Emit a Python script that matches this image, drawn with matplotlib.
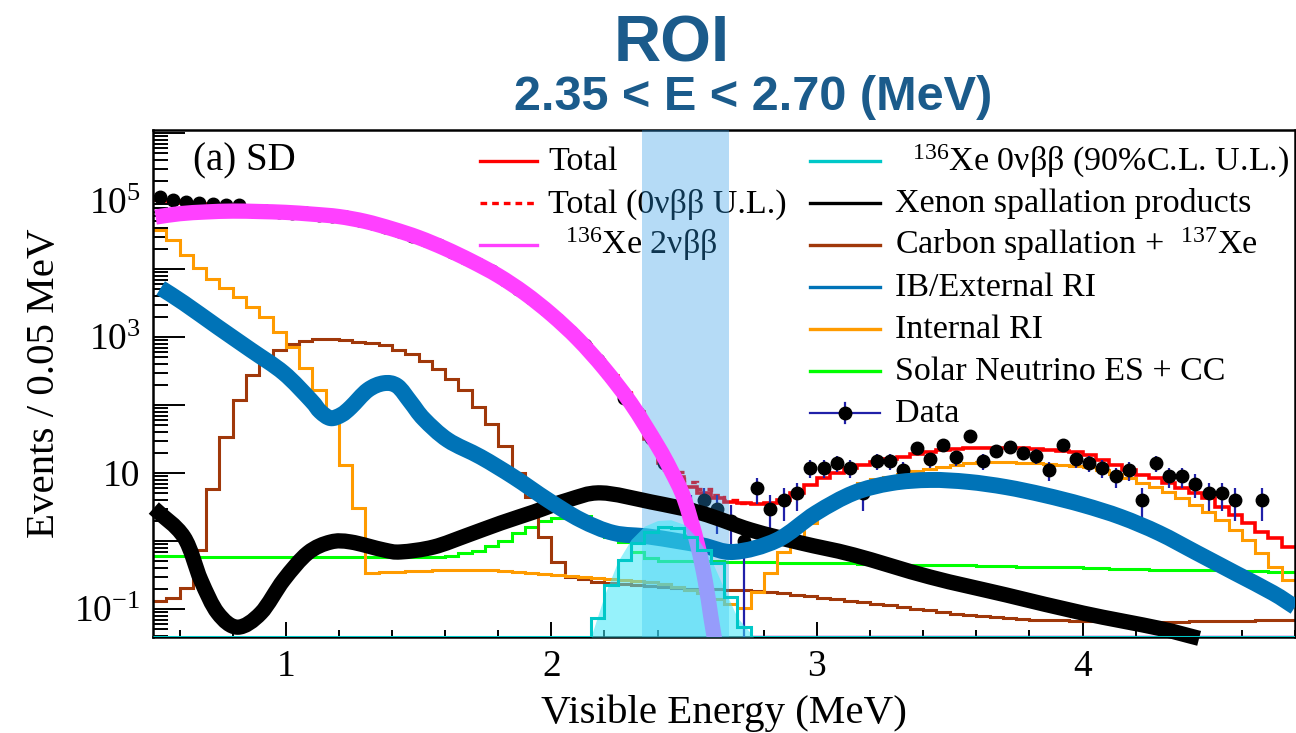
import numpy as np
import matplotlib
matplotlib.use("Agg")
import matplotlib.pyplot as plt
from matplotlib.path import Path
from matplotlib.patches import PathPatch
from matplotlib.ticker import FixedLocator, LogLocator, FuncFormatter, MultipleLocator, NullFormatter

plt.rcParams['font.family'] = ['Liberation Serif', 'DejaVu Serif']
plt.rcParams['mathtext.fontset'] = 'custom'
plt.rcParams['mathtext.rm'] = 'Liberation Serif'
plt.rcParams['mathtext.it'] = 'Liberation Serif:italic'
plt.rcParams['mathtext.bf'] = 'Liberation Serif:bold'

# binning: 0.05 MeV from 0.5 to 4.8 MeV (86 bins)
bin_lo, bin_hi, bin_w = 0.5, 4.8, 0.05
y_lo, y_hi = 10 ** -1.412, 10 ** 6.044

data_counts = [114500, 103000, 97000, 93000, 90000, 88000, 86000, 72000, 71000, 69000,
               67500, 65500, 63000, 60500, 57500, 52500, 47500, 42000, 36500, 31000,
               26500, 22500, 18000, 14500, 11800, 9200, 6900, 5100, 3700, 2600,
               1800, 1200, 760, 460, 260, 127, 75, 33, 14, 7,
               3, 4, 3, 2, 1, 6, 3, 4, 5, 12,
               12, 14, 12, 5, 15, 15, 11, 23, 16, 26,
               17, 35, 15, 21, 24, 20, 18, 11, 26, 16,
               14, 12, 9, 11, 4, 14, 9, 9, 7, 5,
               5, 4, 0, 4, 0, 0]

total_fit = [105000, 99000, 94000, 90000, 85000, 80000, 76000, 73000, 71500, 69500,
             67500, 65500, 63000, 60500, 57500, 53000, 48000, 42500, 37000, 31500,
             26500, 22500, 18200, 14600, 11800, 9300, 6900, 5100, 3700, 2650,
             1800, 1200, 760, 460, 270, 150, 80, 32, 14, 8.7,
             6.2, 5.1, 4.3, 3.8, 3.6, 3.5, 3.6, 4.0, 5.1, 6.7,
             8.4, 10, 11.9, 13.1, 14.5, 16.1, 17.2, 19.0, 20.4, 21.9,
             22.6, 23.4, 23.4, 23.4, 23.4, 23.4, 22.6, 21.9, 21.1, 20.4,
             18.4, 15.5, 13.1, 11.1, 9.3, 8.4, 7.1, 6.0, 5.1, 4.3,
             3.16, 2.41, 1.84, 1.36, 1.1, 0.82]

# total with the 0vbb upper limit added, bins 2.15-2.75 MeV
total_ul_lo = 2.15
total_ul = [460, 270.2, 150.5, 81, 33.4, 15.6, 10.3, 7.4, 5.8, 4.8, 3.95, 3.65]

internal_ri = [37500, 26700, 16000, 10300, 7130, 5250, 3870, 2760, 1970, 1190,
               713, 350, 166, 79, 13.1, 3.05, 0.34, 0.35, 0.355, 0.36,
               0.365, 0.37, 0.375, 0.375, 0.375, 0.37, 0.36, 0.35, 0.34, 0.33,
               0.32, 0.31, 0.30, 0.29, 0.28, 0.27, 0.26, 0.25, 0.23, 0.21,
               0.19, 0.17, 0.14, 0.12, 0.104, 0.178, 0.34, 0.69, 1.15, 1.84,
               3.05, 4.4, 5.6, 7.1, 8.2, 8.7, 9.7, 10.7, 11.5, 12.3,
               13.1, 14.0, 14.5, 14.5, 14.5, 14.0, 14.0, 13.6, 13.1, 12.7,
               12.3, 11.1, 9.7, 8.4, 7.1, 6.2, 5.25, 4.3, 3.4, 2.67,
               2.04, 1.45, 1.03, 0.67, 0.415, 0.267]

carbon_spall = [0.131, 0.145, 0.204, 0.738, 5.8, 34, 118, 274, 444, 646,
                789, 872, 934, 934, 903, 844, 815, 760, 646, 563,
                444, 340, 240, 166, 93, 52, 25, 10, 4.4, 1.15,
                0.49, 0.295, 0.275, 0.25, 0.24, 0.23, 0.225, 0.22, 0.21, 0.205,
                0.2, 0.197, 0.194, 0.19, 0.187, 0.182, 0.177, 0.17, 0.162, 0.154,
                0.147, 0.14, 0.132, 0.125, 0.119, 0.113, 0.107, 0.101, 0.095, 0.09,
                0.085, 0.081, 0.078, 0.075, 0.073, 0.071, 0.07, 0.069, 0.068, 0.067,
                0.066, 0.066, 0.065, 0.065, 0.065, 0.065, 0.065, 0.065, 0.066, 0.066,
                0.066, 0.067, 0.067, 0.068, 0.068, 0.069]

solar_nu = [0.60, 0.60, 0.60, 0.59, 0.59, 0.59, 0.59, 0.59, 0.58, 0.58,
            0.58, 0.58, 0.58, 0.58, 0.58, 0.58, 0.58, 0.58, 0.58, 0.58,
            0.58, 0.59, 0.61, 0.66, 0.72, 0.85, 1.0, 1.3, 1.6, 2.0,
            2.2, 2.4, 2.3, 1.7, 1.15, 0.95, 0.7, 0.56, 0.51, 0.5,
            0.5, 0.5, 0.5, 0.49, 0.49, 0.49, 0.49, 0.48, 0.48, 0.48,
            0.47, 0.47, 0.47, 0.46, 0.46, 0.46, 0.45, 0.45, 0.45, 0.44,
            0.44, 0.44, 0.43, 0.43, 0.43, 0.42, 0.42, 0.41, 0.41, 0.41,
            0.40, 0.40, 0.39, 0.39, 0.39, 0.38, 0.38, 0.38, 0.37, 0.37,
            0.37, 0.36, 0.36, 0.36, 0.35, 0.35]

# 136Xe 0vbb 90% C.L. upper limit, non-empty bins 2.15-2.75 MeV
xe0nu = [0] * 33 + [0.074, 0.225, 0.525, 0.93, 1.36, 1.61, 1.55, 1.15, 0.74, 0.48, 0.15, 0.055] + [0] * 41
# smoothed 0vbb band
xe0nu_band_x = [2.15, 2.2, 2.25, 2.3, 2.35, 2.4, 2.45, 2.5, 2.55, 2.6, 2.65, 2.7, 2.76]
xe0nu_band_y = [0.04, 0.16, 0.5, 1.05, 1.65, 2.0, 2.05, 1.75, 1.1, 0.55, 0.2, 0.075, 0.04]
# 2vbb histogram is empty above this energy
xe2nu_end = 2.75

# smooth model curves
xe2nu_x = [0.51, 0.6, 0.7, 0.8, 0.9, 1.0, 1.1, 1.2, 1.3, 1.4, 1.5, 1.6, 1.7, 1.8,
           1.9, 2.0, 2.1, 2.2, 2.3, 2.4, 2.45, 2.5, 2.55, 2.58, 2.6, 2.615]
xe2nu_y = [58000, 65000, 69000, 71000, 70000, 68000, 64000, 59000, 50000, 39000, 29000, 20000, 13000, 8000,
           4400, 2150, 930, 340, 105, 25, 11, 4.2, 0.89, 0.25, 0.079, 0.035]

ib_ext_x = [0.529, 0.616, 0.744, 0.868, 0.992, 1.094, 1.13, 1.169, 1.21, 1.245, 1.309, 1.369, 1.42,
            1.47, 1.52, 1.61, 1.734, 1.859, 1.987, 2.111, 2.235, 2.375, 2.563, 2.687, 2.85, 2.996,
            3.139, 3.28, 3.426, 3.569, 3.712, 3.855, 4.002, 4.145, 4.288, 4.431, 4.574, 4.717, 4.80]
ib_ext_y = [5250, 3160, 1400, 646, 296, 118, 80, 64, 72, 93, 166, 209, 190,
            110, 62, 30.5, 17.2, 8.7, 4.0, 2.04, 1.31, 1.15, 0.87, 0.69, 1.03, 2.57,
            5.1, 7.1, 7.9, 7.4, 6.2, 4.75, 3.39, 2.25, 1.31, 0.667, 0.339, 0.172, 0.107]

xe_spall_x = [0.503, 0.616, 0.68, 0.744, 0.819, 0.906, 0.992, 1.083, 1.169, 1.245, 1.369, 1.433,
              1.557, 1.685, 1.81, 1.934, 2.062, 2.186, 2.375, 2.563, 2.751, 2.94, 3.139,
              3.426, 3.712, 4.002, 4.288, 4.439]
xe_spall_y = [3.05, 1.15, 0.267, 0.087, 0.054, 0.087, 0.267, 0.667, 0.966, 0.966, 0.738, 0.69,
              0.816, 1.22, 1.84, 2.67, 4.0, 5.1, 3.75, 2.58, 1.45, 0.935, 0.622,
              0.295, 0.161, 0.087, 0.052, 0.037]

roi_lo, roi_hi = 2.34, 2.67

edges = np.round(np.arange(bin_lo, bin_hi + bin_w / 2, bin_w), 3)
centers = edges[:-1] + bin_w / 2

fig = plt.figure(figsize=(12.96, 7.33), dpi=100)
ax = fig.add_axes([0.11806, 0.13097, 0.88117, 0.69168])
ax.set_yscale('log')
ax.set_xlim(bin_lo, bin_hi)
ax.set_ylim(y_lo, y_hi)


def hist(vals, color, lw=2.2, z=2, **kw):
    v = np.clip(np.asarray(vals, dtype=float), y_lo, None)
    ax.stairs(v, edges, baseline=None, color=color, lw=lw, zorder=z, **kw)


def smooth_curve(xs, ys, color, lw, z, clip=True):
    # Catmull-Rom through the points, drawn as cubic Bezier in (x, log y)
    P = np.column_stack([xs, np.log10(ys)])
    Pe = np.vstack([2 * P[0] - P[1], P, 2 * P[-1] - P[-2]])
    verts = [P[0]]
    codes = [Path.MOVETO]
    for i in range(len(P) - 1):
        p0, p1, p2, p3 = Pe[i], Pe[i + 1], Pe[i + 2], Pe[i + 3]
        verts += [p1 + (p2 - p0) / 6, p2 - (p3 - p1) / 6, p2]
        codes += [Path.CURVE4] * 3
    verts = np.array(verts)
    verts[:, 1] = 10 ** verts[:, 1]
    patch = PathPatch(Path(verts, codes), fill=False, edgecolor=color, lw=lw,
                      capstyle='butt', joinstyle='round', zorder=z)
    ax.add_patch(patch)
    patch.set_clip_on(clip)


hist(solar_nu, '#00ff00')
hist(carbon_spall, '#a0380a')
hist(internal_ri, '#ff9b00')
hist(xe0nu, '#00c8c8', z=8)
ax.hlines(y_lo, xe2nu_end, bin_hi, color='#b020c8', lw=2.5, zorder=2)
hist(total_fit, '#ff0000', lw=2.6)
i0 = int(round((total_ul_lo - bin_lo) / bin_w))
ul_edges = edges[i0:i0 + len(total_ul) + 1]
ax.stairs(total_ul, ul_edges, baseline=None, color='#ff0000', lw=2.4, ls=(0, (2, 1.5)), zorder=2)

# data points with Poisson errors
cnt = np.array(data_counts, dtype=float)
m = cnt > 0
err = np.sqrt(cnt[m])
err_lo = np.minimum(err, cnt[m] - y_lo * 0.5)
ax.errorbar(centers[m], cnt[m], yerr=[err_lo, err], fmt='o', color='k', ms=9,
            ecolor='#2020a8', elinewidth=1.6, capsize=0, zorder=3)

# ROI band
ax.axvspan(roi_lo, roi_hi, color='#2b9ae6', alpha=0.35, lw=0, zorder=4)

smooth_curve(xe_spall_x, xe_spall_y, 'k', 11, 5, clip=False)
smooth_curve(ib_ext_x, ib_ext_y, '#0073b7', 11.5, 5.5)
smooth_curve(xe2nu_x, xe2nu_y, '#ff40ff', 11, 6)
ax.fill_between(xe0nu_band_x, y_lo, xe0nu_band_y, color='#40e8f8', alpha=0.55, lw=0, zorder=7)

# axes styling
for s in ax.spines.values():
    s.set_linewidth(1.8)
ax.xaxis.set_major_locator(MultipleLocator(1))
ax.xaxis.set_minor_locator(MultipleLocator(0.2))
ax.yaxis.set_major_locator(FixedLocator([10.0 ** e for e in range(-1, 7)]))
ax.yaxis.set_minor_locator(LogLocator(base=10, subs=np.arange(2, 10), numticks=20))
ax.yaxis.set_minor_formatter(NullFormatter())


def ylab(v, pos):
    e = int(round(np.log10(v)))
    if e % 2 == 0:
        return ''
    if e == 1:
        return '10'
    return r'$10^{%d}$' % e


ax.yaxis.set_major_formatter(FuncFormatter(ylab))
ax.tick_params(axis='x', which='major', direction='in', length=11, width=1.4, labelsize=27, pad=9)
ax.tick_params(axis='x', which='minor', direction='in', length=5, width=1.4)
ax.tick_params(axis='y', which='major', direction='in', length=23, width=1.4, labelsize=27, pad=9)
ax.tick_params(axis='y', which='minor', direction='in', length=11, width=1.4)

ax.set_xlabel('Visible Energy (MeV)', fontsize=29.5)
ax.xaxis.set_label_coords(0.5, -0.113)
ax.set_ylabel('Events / 0.05 MeV', fontsize=29.5)
ax.yaxis.set_label_coords(-0.079, 0.5)

ax.text(0.035, 0.9389 - 0.0187, '(a) SD', transform=ax.transAxes, fontsize=28, va='baseline', zorder=1)

# legend, two columns
row_dy = 0.0828
base_off = 0.0187
left_rows = [
    ('Total', '#ff0000', '-'),
    (r'Total (0νββ U.L.)', '#ff0000', (0, (2, 1.5))),
    (r'  $^{136}$Xe 2νββ', '#ff40ff', '-'),
]
right_rows = [
    (r'  $^{136}$Xe 0νββ (90%C.L. U.L.)', '#00c8c8', '-'),
    ('Xenon spallation products', 'k', '-'),
    (r'Carbon spallation +  $^{137}$Xe', '#a0380a', '-'),
    ('IB/External RI', '#0073b7', '-'),
    ('Internal RI', '#ff9b00', '-'),
    ('Solar Neutrino ES + CC', '#00ff00', '-'),
    ('Data', None, None),
]
for k, (lab, col, ls) in enumerate(left_rows):
    y = 0.9389 - k * row_dy
    ax.plot([0.2863, 0.3363], [y, y], transform=ax.transAxes, color=col, lw=2.4, ls=ls, zorder=1)
    ax.text(0.3459, y - base_off, lab, transform=ax.transAxes, fontsize=24.5, va='baseline', zorder=1)
for k, (lab, col, ls) in enumerate(right_rows):
    y = 0.9389 - k * row_dy
    if col is None:
        ax.plot([0.5753, 0.6366], [y, y], transform=ax.transAxes, color='#2020a8', lw=1.6, zorder=1)
        ax.plot([0.606, 0.606], [y - 0.02, y + 0.02], transform=ax.transAxes, color='#2020a8', lw=1.6, zorder=1)
        ax.plot([0.606], [y], 'o', transform=ax.transAxes, color='k', ms=9, zorder=1)
    else:
        ax.plot([0.5753, 0.6366], [y, y], transform=ax.transAxes, color=col, lw=2.4, ls=ls, zorder=1)
    ax.text(0.6497, y - base_off, lab, transform=ax.transAxes, fontsize=24.5, va='baseline', zorder=1)

# ROI heading
fig.text(0.5185, 1 - 45 / 733, 'ROI', ha='center', va='center', fontsize=47,
         fontweight='bold', color='#1b5b8b', family='Liberation Sans')
fig.text(0.581, 1 - 97 / 733, '2.35 < E < 2.70 (MeV)', ha='center', va='center', fontsize=35,
         fontweight='bold', color='#1b5b8b', family='Liberation Sans')

fig.savefig('out.png', dpi=100)
